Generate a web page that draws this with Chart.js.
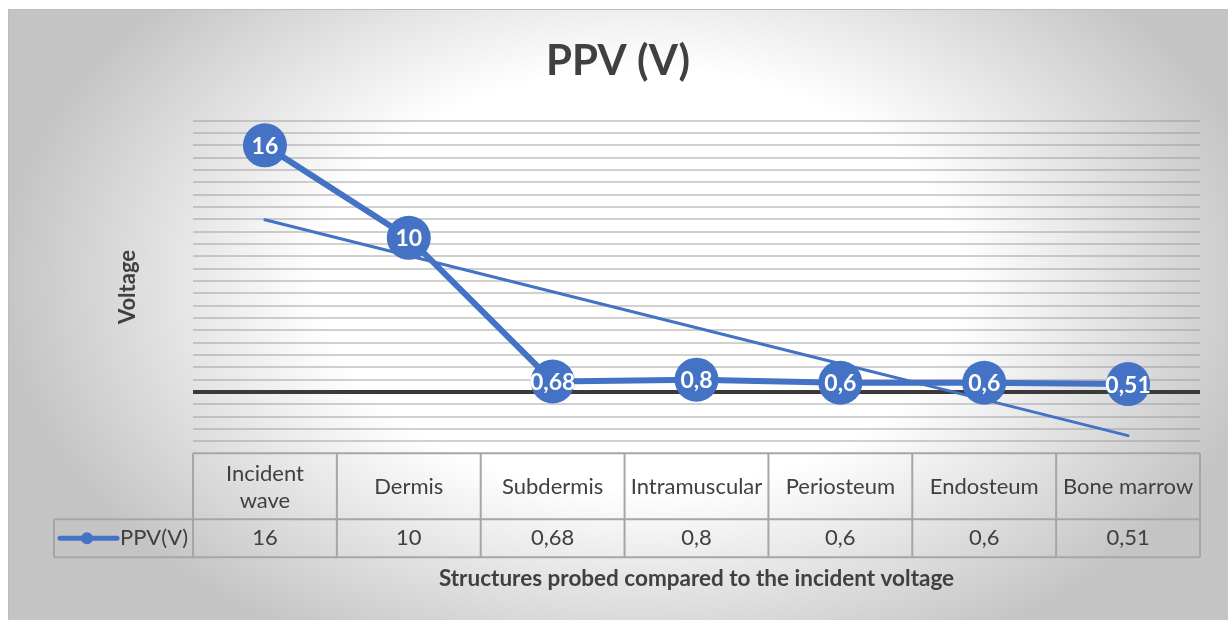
<!DOCTYPE html>
<html>
<head>
<meta charset="utf-8">
<script src="https://cdn.jsdelivr.net/npm/chart.js@4.4.1/dist/chart.umd.min.js"></script>
<style>
  html, body { margin: 0; padding: 0; background: #fff; }
  #frame {
    position: absolute; left: 8px; top: 9px; width: 1220px; height: 611px;
    background: radial-gradient(ellipse 640px 420px at 632px 271px, #ffffff 50%, #c4c4c4 100%);
    box-shadow: inset 1px 1px 0 #bdbdbd;
  }
  canvas { display: block; }
</style>
</head>
<body>
<div id="frame"><canvas id="chart" width="1220" height="611"></canvas></div>
<script>
// data
const categories = [['Incident', 'wave'], 'Dermis', 'Subdermis', 'Intramuscular', 'Periosteum', 'Endosteum', 'Bone marrow'];
const ppvValues = [16, 10, 0.68, 0.8, 0.6, 0.6, 0.51];
const seriesName = 'PPV(V)';
const yMin = -3.2;
const yMax = 17.6;
const yStep = 0.8;

const FONT = 'Lato, "Open Sans", sans-serif';
const BLUE = '#4472C4';
const TEXT = '#404040';

// excel style linear trendline (least squares over the category index)
function linearTrend(values) {
  const n = values.length;
  const xs = values.map((v, i) => i + 1);
  const mx = xs.reduce((a, b) => a + b, 0) / n;
  const my = values.reduce((a, b) => a + b, 0) / n;
  let sxy = 0, sxx = 0;
  xs.forEach((x, i) => { sxy += (x - mx) * (values[i] - my); sxx += (x - mx) * (x - mx); });
  const slope = sxy / sxx;
  return xs.map(x => my + slope * (x - mx));
}

const fmt = v => String(v).replace('.', ',');

// white value labels inside the markers
const valueLabels = {
  id: 'valueLabels',
  afterDatasetsDraw(chart) {
    const ctx = chart.ctx;
    const meta = chart.getDatasetMeta(0);
    ctx.save();
    ctx.fillStyle = '#fff';
    ctx.font = 'bold 23px ' + FONT;
    ctx.textAlign = 'center';
    ctx.textBaseline = 'middle';
    meta.data.forEach((pt, i) => {
      ctx.fillText(fmt(ppvValues[i]), pt.x, pt.y + 1);
    });
    ctx.restore();
  }
};

// title, axis titles + data table under the plot
const dataTable = {
  id: 'dataTable',
  afterDraw(chart) {
    const ctx = chart.ctx;
    const area = chart.chartArea;
    const xs = chart.scales.x;
    const half = (xs.getPixelForValue(1) - xs.getPixelForValue(0)) / 2;
    const top = area.bottom + 12;
    const mid = top + 66;
    const bot = mid + 38;
    const legendLeft = area.left - 139;

    ctx.save();
    ctx.fillStyle = TEXT;
    ctx.textAlign = 'center';
    ctx.textBaseline = 'middle';
    ctx.font = 'bold 42px ' + FONT;
    ctx.fillText('PPV (V)', chart.width / 2, 52);

    ctx.strokeStyle = '#a6a6a6';
    ctx.lineWidth = 2;
    ctx.beginPath();
    ctx.moveTo(area.left, top); ctx.lineTo(area.right, top);
    ctx.moveTo(legendLeft, mid); ctx.lineTo(area.right, mid);
    ctx.moveTo(legendLeft, bot); ctx.lineTo(area.right, bot);
    ctx.moveTo(legendLeft, mid); ctx.lineTo(legendLeft, bot);
    for (let i = 0; i <= categories.length; i++) {
      const x = i < categories.length ? xs.getPixelForValue(i) - half : area.right;
      ctx.moveTo(x, top); ctx.lineTo(x, bot);
    }
    ctx.stroke();

    ctx.font = '22px ' + FONT;
    categories.forEach((c, i) => {
      const x = xs.getPixelForValue(i);
      const lines = Array.isArray(c) ? c : [c];
      const lh = 27;
      const y0 = (top + mid) / 2 + 1 - (lines.length - 1) * lh / 2;
      lines.forEach((l, j) => ctx.fillText(l, x, y0 + j * lh));
      ctx.fillText(fmt(ppvValues[i]), x, (mid + bot) / 2);
    });

    // legend key in the table
    const ly = (mid + bot) / 2;
    ctx.strokeStyle = BLUE;
    ctx.lineWidth = 5;
    ctx.lineCap = 'round';
    ctx.beginPath();
    ctx.moveTo(legendLeft + 6, ly); ctx.lineTo(legendLeft + 63, ly);
    ctx.stroke();
    ctx.fillStyle = BLUE;
    ctx.beginPath();
    ctx.arc(legendLeft + 33, ly, 6, 0, Math.PI * 2);
    ctx.fill();
    ctx.fillStyle = TEXT;
    ctx.textAlign = 'left';
    ctx.fillText(seriesName, legendLeft + 66, ly);

    // axis titles
    ctx.font = 'bold 22.5px ' + FONT;
    ctx.textAlign = 'center';
    ctx.fillText('Structures probed compared to the incident voltage', (area.left + area.right) / 2, 570);
    ctx.translate(120, 278);
    ctx.rotate(-Math.PI / 2);
    ctx.font = 'bold 22px ' + FONT;
    ctx.fillText('Voltage', 0, 0);
    ctx.restore();
  }
};

new Chart(document.getElementById('chart'), {
  type: 'line',
  data: {
    labels: categories,
    datasets: [
      {
        label: seriesName,
        data: ppvValues,
        borderColor: BLUE,
        backgroundColor: BLUE,
        borderWidth: 6,
        borderCapStyle: 'round',
        borderJoinStyle: 'round',
        pointRadius: 22,
        pointBorderWidth: 0,
        pointBackgroundColor: BLUE,
        tension: 0
      },
      {
        label: 'Trend',
        data: linearTrend(ppvValues),
        borderColor: BLUE,
        borderWidth: 3,
        borderCapStyle: 'round',
        pointRadius: 0,
        tension: 0
      }
    ]
  },
  options: {
    responsive: false,
    animation: false,
    layout: { padding: { left: 185, right: 28, top: 111.7, bottom: 178.7 } },
    plugins: {
      legend: { display: false },
      tooltip: { enabled: false },
      title: { display: false }
    },
    scales: {
      x: { display: false, offset: true },
      y: {
        min: yMin,
        max: yMax,
        ticks: { display: false, stepSize: yStep },
        border: { display: false },
        grid: {
          drawTicks: false,
          color: c => Math.abs(c.tick.value) < 1e-9 ? '#3a3a3a' : 'rgba(150,150,150,0.45)',
          lineWidth: c => Math.abs(c.tick.value) < 1e-9 ? 4 : 2
        }
      }
    }
  },
  plugins: [valueLabels, dataTable]
});
</script>
</body>
</html>
